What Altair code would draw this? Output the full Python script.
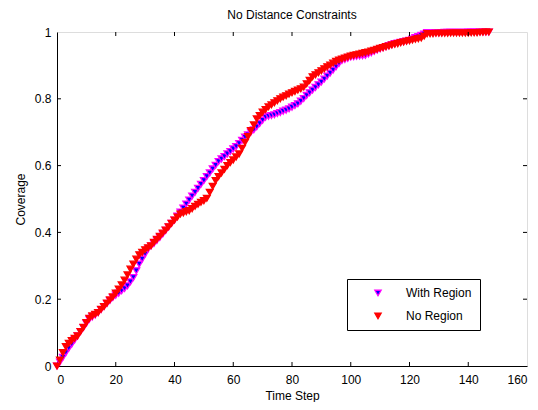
import altair as alt
import pandas as pd

# Time steps 0..147
steps = list(range(148))

no_region = [
    0.000, 0.018, 0.040, 0.058, 0.068, 0.076, 0.083, 0.090, 0.103, 0.116,
    0.130, 0.143, 0.150, 0.155, 0.160, 0.170, 0.178, 0.188, 0.198, 0.207,
    0.218, 0.230, 0.243, 0.257, 0.273, 0.290, 0.305, 0.320, 0.333, 0.340,
    0.348, 0.354, 0.360, 0.370, 0.379, 0.388, 0.398, 0.407, 0.417, 0.427,
    0.437, 0.446, 0.455, 0.458, 0.462, 0.465, 0.471, 0.478, 0.484, 0.490,
    0.495, 0.502, 0.520, 0.538, 0.555, 0.567, 0.578, 0.589, 0.600, 0.609,
    0.617, 0.626, 0.635, 0.652, 0.670, 0.687, 0.705, 0.722, 0.740, 0.750,
    0.760, 0.768, 0.776, 0.782, 0.788, 0.794, 0.800, 0.805, 0.809, 0.814,
    0.818, 0.822, 0.826, 0.830, 0.835, 0.845, 0.855, 0.866, 0.872, 0.878,
    0.884, 0.890, 0.896, 0.901, 0.907, 0.912, 0.916, 0.919, 0.922, 0.925,
    0.928, 0.930, 0.932, 0.934, 0.936, 0.938, 0.940, 0.943, 0.945, 0.948,
    0.951, 0.953, 0.956, 0.958, 0.961, 0.963, 0.965, 0.968, 0.970, 0.972,
    0.974, 0.976, 0.978, 0.980, 0.982, 0.988, 0.995, 0.995, 0.995, 0.996,
    0.996, 0.996, 0.996, 0.996, 0.997, 0.997, 0.997, 0.997, 0.997, 0.997,
    0.997, 0.998, 0.998, 0.998, 0.999, 0.999, 1.000, 1.000,
]

with_region = [
    0.000, 0.012, 0.026, 0.040, 0.053, 0.065, 0.078, 0.090, 0.103, 0.115,
    0.128, 0.140, 0.147, 0.153, 0.160, 0.169, 0.178, 0.187, 0.196, 0.205,
    0.212, 0.218, 0.225, 0.232, 0.240, 0.252, 0.265, 0.285, 0.305, 0.320,
    0.335, 0.350, 0.359, 0.367, 0.376, 0.385, 0.395, 0.406, 0.416, 0.427,
    0.437, 0.449, 0.461, 0.473, 0.485, 0.497, 0.509, 0.520, 0.532, 0.544,
    0.555, 0.567, 0.578, 0.590, 0.601, 0.612, 0.620, 0.627, 0.635, 0.642,
    0.650, 0.657, 0.666, 0.676, 0.685, 0.692, 0.700, 0.707, 0.716, 0.726,
    0.736, 0.745, 0.748, 0.750, 0.752, 0.756, 0.759, 0.763, 0.766, 0.770,
    0.775, 0.780, 0.785, 0.793, 0.801, 0.810, 0.818, 0.826, 0.834, 0.842,
    0.850, 0.859, 0.868, 0.877, 0.886, 0.896, 0.906, 0.915, 0.918, 0.921,
    0.925, 0.926, 0.927, 0.928, 0.929, 0.930, 0.934, 0.938, 0.942, 0.946,
    0.950, 0.953, 0.956, 0.959, 0.962, 0.965, 0.967, 0.969, 0.971, 0.973,
    0.975, 0.979, 0.983, 0.986, 0.990, 0.994, 0.998, 0.998, 0.998, 0.998,
    0.998, 0.998, 0.999, 0.999, 0.999, 0.999, 0.999, 0.999, 0.999, 0.999,
    1.000, 1.000, 1.000, 1.000, 1.000, 1.000, 1.000, 1.000,
]

series_names = ["With Region", "No Region"]
fill_colors = ["#0000ff", "#ff0000"]
stroke_colors = ["#ff00ff", "#ff0000"]

x_ticks = [0, 20, 40, 60, 80, 100, 120, 140, 160]
y_ticks = [0, 0.2, 0.4, 0.6, 0.8, 1]

W, H = 470, 334
TL = 4  # inward tick length

rows = []
for t, v in zip(steps, with_region):
    rows.append({"t": t, "cov": v, "series": "With Region"})
for t, v in zip(steps, no_region):
    rows.append({"t": t, "cov": v, "series": "No Region"})
df = pd.DataFrame(rows)

xs = alt.Scale(domain=[0, 160], nice=False, zero=False)
ys = alt.Scale(domain=[0, 1], nice=False, zero=False)

FONT = "Liberation Sans"
FS = 12

points = alt.Chart(df).mark_point(
    shape="triangle-down", filled=True, size=46, strokeWidth=1.3, opacity=1
).encode(
    x=alt.X("t:Q", scale=xs, title="Time Step",
            axis=alt.Axis(values=x_ticks, tickSize=0, labelPadding=8,
                          titlePadding=5, grid=False, domainColor="black",
                          labelColor="black", titleColor="black",
                          labelFontSize=FS, titleFontSize=FS, labelFont=FONT,
                          titleFont=FONT, titleFontWeight="normal")),
    y=alt.Y("cov:Q", scale=ys, title="Coverage",
            axis=alt.Axis(values=y_ticks, format=".1~f", tickSize=0,
                          labelPadding=6, titlePadding=7, grid=False,
                          domainColor="black",
                          labelColor="black", titleColor="black",
                          labelFontSize=FS, titleFontSize=FS, labelFont=FONT,
                          titleFont=FONT, titleFontWeight="normal")),
    fill=alt.Fill("series:N",
                  scale=alt.Scale(domain=series_names, range=fill_colors),
                  legend=alt.Legend(title=None, orient="none",
                                    legendX=290, legendY=247,
                                    strokeColor="black", fillColor="white",
                                    padding=8, symbolOffset=17,
                                    labelOffset=22, rowPadding=11,
                                    labelFont=FONT, labelFontSize=FS,
                                    labelColor="black",
                                    symbolType="triangle-down",
                                    symbolSize=40, symbolStrokeWidth=1.3)),
    stroke=alt.Stroke("series:N",
                      scale=alt.Scale(domain=series_names, range=stroke_colors),
                      legend=None),
    order=alt.Order("series:N", sort="descending"),
)

xt = pd.DataFrame({"v": x_ticks[1:-1]})
yt = pd.DataFrame({"v": y_ticks[1:-1]})

xb = alt.Chart(xt).mark_rule(color="black", strokeWidth=1).encode(
    x=alt.X("v:Q", scale=xs), y=alt.value(H), y2=alt.value(H - TL))
xtop = alt.Chart(xt).mark_rule(color="black", strokeWidth=1).encode(
    x=alt.X("v:Q", scale=xs), y=alt.value(0), y2=alt.value(TL))
yl = alt.Chart(yt).mark_rule(color="black", strokeWidth=1).encode(
    y=alt.Y("v:Q", scale=ys), x=alt.value(0), x2=alt.value(TL))
yr = alt.Chart(yt).mark_rule(color="black", strokeWidth=1).encode(
    y=alt.Y("v:Q", scale=ys), x=alt.value(W), x2=alt.value(W - TL))

chart = alt.layer(points, xb, xtop, yl, yr).properties(
    width=W, height=H,
    title=alt.Title("No Distance Constraints", font=FONT, fontSize=FS,
                    fontWeight="normal", color="black", offset=4,
                    anchor="middle"),
    autosize=alt.AutoSizeParams(type="none"),
    padding={"left": 49, "top": 24, "right": 3, "bottom": 36},
).configure_view(
    stroke="black", strokeWidth=1
).configure(background="white")

chart.save("out.html", embed_options={"renderer": "svg", "actions": False})
